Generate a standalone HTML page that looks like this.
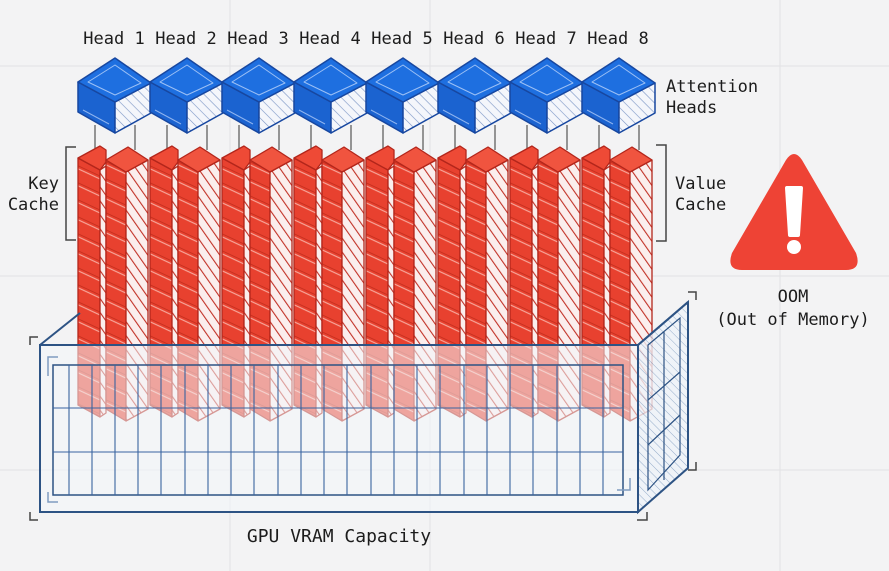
<!DOCTYPE html>
<html><head><meta charset="utf-8"><style>
html,body{margin:0;padding:0;background:#f3f3f4;}
svg{display:block;}
text{font-family:"DejaVu Sans Mono","Liberation Mono",monospace;fill:#1c1c1c;}
</style></head><body>
<svg width="889" height="571" viewBox="0 0 889 571" xmlns="http://www.w3.org/2000/svg">
<defs>
<pattern id="hb" width="7" height="7" patternUnits="userSpaceOnUse" patternTransform="rotate(-45)">
<rect width="7" height="7" fill="#f4f6fb"/><line x1="0" y1="0" x2="0" y2="7" stroke="#7a93c4" stroke-width="1.2"/></pattern>
<pattern id="hr" width="8" height="8" patternUnits="userSpaceOnUse" patternTransform="rotate(-35)">
<rect width="8" height="8" fill="#fbeeed"/><line x1="0" y1="0" x2="0" y2="8" stroke="#c23328" stroke-width="2.2"/></pattern>
<pattern id="rs" width="30" height="17" patternUnits="userSpaceOnUse" patternTransform="skewY(25)">
<rect width="30" height="17" fill="#e8412f"/><line x1="0" y1="16" x2="30" y2="16" stroke="#f7a89c" stroke-width="1.2"/><line x1="0" y1="13" x2="30" y2="13" stroke="#c7301f" stroke-width="1"/></pattern>
<pattern id="hs" width="6" height="6" patternUnits="userSpaceOnUse" patternTransform="rotate(-45)">
<rect width="6" height="6" fill="#eef3f9"/><line x1="0" y1="0" x2="0" y2="6" stroke="#7f9cc0" stroke-width="1"/></pattern>
<g id="cube" stroke="#1747a0" stroke-width="1.5" stroke-linejoin="round">
<polygon points="-37,24 0,44 0,75 -37,54" fill="#1b63d0"/>
<polygon points="0,44 36,25 36,55 0,75" fill="url(#hb)"/>
<polygon points="0,0 36,25 0,44 -37,24" fill="#1e6fe0"/>
<polygon points="0,7 26,25 0,37 -27,24" fill="none" stroke="#9cc0f5" stroke-width="1"/>
<line x1="-32" y1="52" x2="-6" y2="66" stroke="#8fb4ef" stroke-width="1"/>
</g>
<g id="cols" stroke="#b3261b" stroke-width="1.3" stroke-linejoin="round">
<line x1="-20" y1="125" x2="-20" y2="150" stroke="#555" stroke-width="1.2"/>
<line x1="20" y1="125" x2="20" y2="150" stroke="#555" stroke-width="1.2"/>
<polygon points="-37,158 -15,170 -15,417 -37,405" fill="url(#rs)"/>
<polygon points="-15,170 -9,166 -9,413 -15,417" fill="url(#hr)"/>
<polygon points="-37,158 -15,146 -9,150 -9,162 -15,170" fill="#ee4a36"/>
<polygon points="-9,160 11,172 11,421 -9,409" fill="url(#rs)"/>
<polygon points="11,172 33,160 33,409 11,421" fill="url(#hr)"/>
<polygon points="-9,160 13,147 33,160 11,172" fill="#f0543f"/>
</g>
</defs>
<g stroke="#e2e2e4" stroke-width="1">
<line x1="0" y1="66" x2="889" y2="66"/><line x1="0" y1="276" x2="889" y2="276"/><line x1="0" y1="470" x2="889" y2="470"/>
<line x1="230" y1="0" x2="230" y2="571"/><line x1="430" y1="0" x2="430" y2="571"/><line x1="780" y1="0" x2="780" y2="571"/>
</g>
<g font-size="17" text-anchor="middle">
<text x="114" y="44">Head 1</text><text x="186" y="44">Head 2</text><text x="258" y="44">Head 3</text><text x="330" y="44">Head 4</text>
<text x="402" y="44">Head 5</text><text x="474" y="44">Head 6</text><text x="546" y="44">Head 7</text><text x="618" y="44">Head 8</text>
</g>
<use href="#cols" x="115"/><use href="#cols" x="187"/><use href="#cols" x="259"/><use href="#cols" x="331"/>
<use href="#cols" x="403"/><use href="#cols" x="475"/><use href="#cols" x="547"/><use href="#cols" x="619"/>
<use href="#cube" x="115" y="58"/><use href="#cube" x="187" y="58"/><use href="#cube" x="259" y="58"/><use href="#cube" x="331" y="58"/>
<use href="#cube" x="403" y="58"/><use href="#cube" x="475" y="58"/><use href="#cube" x="547" y="58"/><use href="#cube" x="619" y="58"/>
<polygon points="638,345 688,302 688,468 638,512" fill="url(#hs)" fill-opacity="0.8" stroke="#2d5384" stroke-width="2"/>
<polygon points="648,345 680,318 680,455 648,490" fill="none" stroke="#2d5384" stroke-width="1.2"/>
<g stroke="#2d5384" stroke-width="1.2"><line x1="664" y1="332" x2="664" y2="480"/><line x1="648" y1="400" x2="680" y2="372"/><line x1="648" y1="445" x2="680" y2="415"/></g>
<line x1="40" y1="345" x2="80" y2="313" stroke="#2d5384" stroke-width="2"/>
<line x1="638" y1="345" x2="688" y2="302" stroke="#2d5384" stroke-width="2"/>
<rect x="40" y="345" width="598" height="167" fill="#f2f5fa" fill-opacity="0.55" stroke="#2d5384" stroke-width="2"/>
<rect x="53" y="365" width="570" height="130" fill="none" stroke="#2d5384" stroke-width="1.5"/>
<g stroke="#3a64a0" stroke-width="1.1">
<line x1="53" y1="408" x2="623" y2="408"/><line x1="53" y1="452" x2="623" y2="452"/>
<line x1="69" y1="365" x2="69" y2="495"/><line x1="92" y1="365" x2="92" y2="495"/><line x1="115" y1="365" x2="115" y2="495"/><line x1="138" y1="365" x2="138" y2="495"/>
<line x1="161" y1="365" x2="161" y2="495"/><line x1="185" y1="365" x2="185" y2="495"/><line x1="208" y1="365" x2="208" y2="495"/><line x1="231" y1="365" x2="231" y2="495"/>
<line x1="254" y1="365" x2="254" y2="495"/><line x1="278" y1="365" x2="278" y2="495"/><line x1="301" y1="365" x2="301" y2="495"/><line x1="324" y1="365" x2="324" y2="495"/>
<line x1="347" y1="365" x2="347" y2="495"/><line x1="371" y1="365" x2="371" y2="495"/><line x1="394" y1="365" x2="394" y2="495"/><line x1="417" y1="365" x2="417" y2="495"/>
<line x1="440" y1="365" x2="440" y2="495"/><line x1="464" y1="365" x2="464" y2="495"/><line x1="487" y1="365" x2="487" y2="495"/><line x1="510" y1="365" x2="510" y2="495"/>
<line x1="533" y1="365" x2="533" y2="495"/><line x1="557" y1="365" x2="557" y2="495"/><line x1="580" y1="365" x2="580" y2="495"/><line x1="603" y1="365" x2="603" y2="495"/>
</g>
<g fill="none" stroke="#444" stroke-width="1.5">
<polyline points="30,345 30,337 38,337"/><polyline points="30,512 30,520 38,520"/>
<polyline points="48,376 48,357 58,357" stroke="#7f9cc0"/><polyline points="48,492 48,502 58,502" stroke="#7f9cc0"/>
<polyline points="617,490 630,490 630,478" stroke="#7f9cc0"/>
<polyline points="637,520 647,520 647,512"/><polyline points="688,292 696,292 696,300"/><polyline points="688,470 696,470 696,462"/>
<polyline points="76,147 66,147 66,240 76,240"/><polyline points="656,145 666,145 666,241 656,241"/>
</g>
<g font-size="17">
<text x="59" y="189" text-anchor="end">Key</text><text x="59" y="210" text-anchor="end">Cache</text>
<text x="675" y="189">Value</text><text x="675" y="210">Cache</text>
<text x="666" y="92">Attention</text><text x="666" y="113">Heads</text>
<text x="793" y="302" text-anchor="middle">OOM</text><text x="793" y="325" text-anchor="middle">(Out of Memory)</text>
<text x="339" y="542" text-anchor="middle" font-size="18">GPU VRAM Capacity</text>
</g>
<path d="M786,160 Q794,148 802,160 L856,253 Q862,270 846,270 L742,270 Q726,270 732,253 Z" fill="#ee4335"/>
<path d="M787,188 L801,188 L798,235 L790,235 Z" fill="#fff" stroke="#fff" stroke-width="4" stroke-linejoin="round"/>
<circle cx="794" cy="247" r="7" fill="#fff"/>
</svg>
</body></html>
